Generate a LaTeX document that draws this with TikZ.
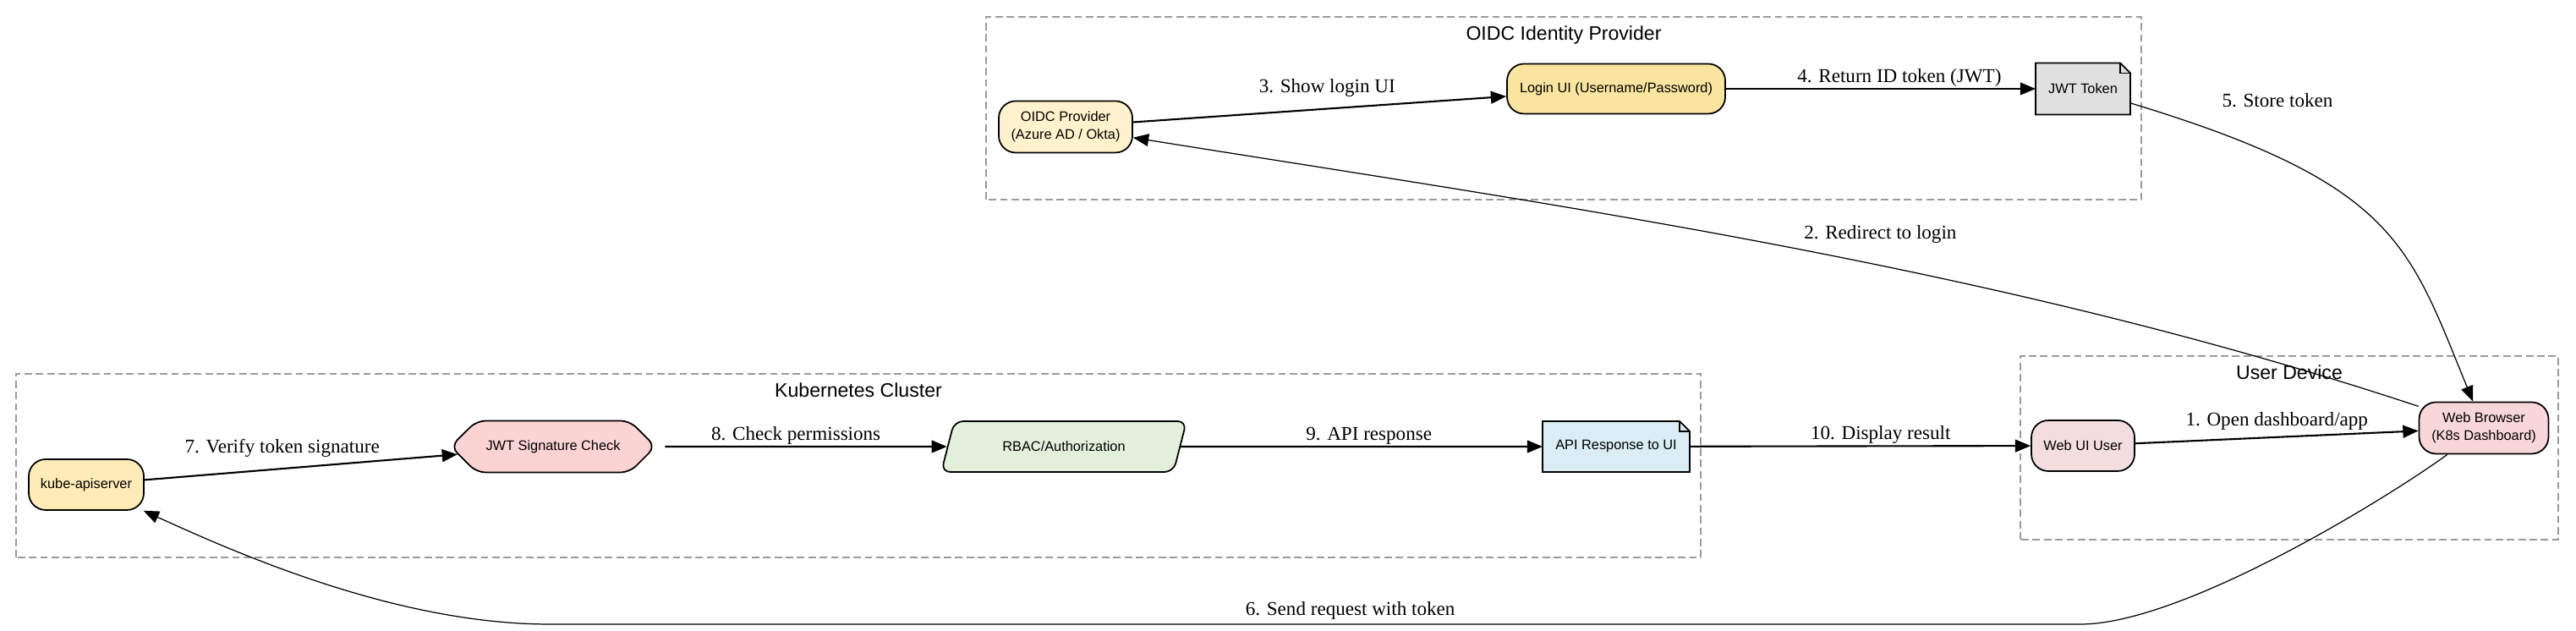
\documentclass[tikz,border=0pt]{standalone}
\usepackage{fontspec}
\setmainfont{Liberation Serif}
\setsansfont{Liberation Sans}
\usetikzlibrary{arrows.meta,positioning,shapes.geometric,shapes.symbols,calc,backgrounds}
\definecolor{idpfill}{HTML}{FFF2CC}
\definecolor{loginfill}{HTML}{FAE5A0}
\definecolor{tokenfill}{HTML}{E0E0E0}
\definecolor{apifill}{HTML}{FFEBB8}
\definecolor{sigfill}{HTML}{FBD3D3}
\definecolor{rbacfill}{HTML}{E2EFDA}
\definecolor{respfill}{HTML}{DAEDF5}
\definecolor{userfill}{HTML}{F3DDDF}
\definecolor{browserfill}{HTML}{F8D7DA}
\definecolor{clustergray}{HTML}{9A9A9A}

\newcommand{\notefold}[1]{%
  \fill[white] ($(#1.north east)+(-0.12,0)$) -- (#1.north east) -- ($(#1.north east)+(0,-0.12)$) -- cycle;
  \draw[line width=0.5pt] (#1.south west) -- (#1.north west) -- ($(#1.north east)+(-0.12,0)$) -- ($(#1.north east)+(0,-0.12)$) -- (#1.south east) -- cycle;
  \draw[line width=0.5pt] ($(#1.north east)+(-0.12,0)$) |- ($(#1.north east)+(0,-0.12)$);
}

\begin{document}
\begin{tikzpicture}[
    base/.style={line width=0.5pt,align=center,inner sep=1pt,font=\sffamily\fontsize{4.65}{5.9}\selectfont},
    rbox/.style={base,draw,rectangle,rounded corners=0.2cm},
    doc/.style={base,rectangle,outer sep=0pt},
    checkbox/.style={base,draw,signal,signal to=west and east,signal pointer angle=90,rounded corners=3pt},
    slantbox/.style={base,draw,trapezium,trapezium left angle=51,trapezium right angle=129,trapezium stretches body,rounded corners=3pt},
    cluster/.style={draw=clustergray,line width=0.5pt,dash pattern=on 2.5pt off 1.3pt},
    clustertitle/.style={anchor=base,inner sep=0pt,font=\sffamily\fontsize{6.57}{7.9}\selectfont},
    flow/.style={-{Triangle[length=5.2pt,width=4.2pt]},line width=0.6pt},
    curve/.style={flow,line width=0.35pt},
    lbl/.style={inner sep=0.5pt,font=\fontsize{6.57}{7.9}\selectfont}
  ]
    \useasboundingbox (0,0) rectangle (30.46,7.46);

    % Clusters
    \draw[cluster] (11.66,5.10) rectangle (25.32,7.26);
    \node[clustertitle] (idptitle) at (18.49,6.98) {OIDC Identity Provider};
    \draw[cluster] (0.19,0.87) rectangle (20.11,3.04);
    \node[clustertitle] (k8stitle) at (10.15,2.76) {Kubernetes Cluster};
    \draw[cluster] (23.89,1.08) rectangle (30.25,3.25);
    \node[clustertitle] (devtitle) at (27.07,2.97) {User Device};

    % Identity provider
    \node[rbox,fill=idpfill,minimum width=1.58cm,minimum height=0.61cm] (oidc) at (12.60,5.96) {OIDC Provider\\(Azure AD / Okta)};
    \node[rbox,fill=loginfill,minimum width=2.58cm,minimum height=0.59cm] (login) at (19.11,6.41) {Login UI (Username/Password)};
    \node[doc,fill=tokenfill,minimum width=1.12cm,minimum height=0.61cm] (jwt) at (24.63,6.41) {JWT Token};
    \notefold{jwt}

    % Kubernetes cluster
    \node[rbox,fill=apifill,minimum width=1.36cm,minimum height=0.60cm] (kube) at (1.02,1.73) {kube-apiserver};
    \node[checkbox,fill=sigfill,minimum width=2.42cm,minimum height=0.61cm] (jwtsig) at (6.54,2.18) {JWT Signature Check};
    \node[slantbox,fill=rbacfill,minimum width=2.90cm,minimum height=0.60cm] (rbac) at (12.58,2.18) {RBAC/Authorization};
    \node[doc,fill=respfill,minimum width=1.74cm,minimum height=0.60cm] (apiresp) at (19.11,2.18) {API Response to UI};
    \notefold{apiresp}

    % User device
    \node[rbox,fill=userfill,minimum width=1.22cm,minimum height=0.60cm] (webui) at (24.63,2.19) {Web UI User};
    \node[rbox,fill=browserfill,minimum width=1.53cm,minimum height=0.61cm] (browser) at (29.37,2.40) {Web Browser\\(K8s Dashboard)};

    % Bends of the request path
    \coordinate (bendR) at (24.6,0.08);
    \coordinate (bendL) at (6.5,0.08);

    % Flow
    \draw[flow] (webui) -- node[lbl,above,yshift=0.06cm] {1. Open dashboard/app} (browser);
    \draw[curve] (browser) .. controls (23.61,4.31) and (18.42,5.03) .. node[lbl,pos=0.42,above=0.24cm] {2. Redirect to login} (oidc);
    \draw[flow] (oidc) -- node[lbl,pos=0.52,above,yshift=0.11cm] {3. Show login UI} (login);
    \draw[flow] (login) -- node[lbl,pos=0.56,above] {4. Return ID token (JWT)} (jwt);
    \draw[curve] (jwt) .. controls (28.34,5.29) and (28.48,4.57) .. node[lbl,pos=0.23,above=0.56cm] {5. Store token} (browser);
    \draw[curve] (browser) .. controls (28.2,1.55) and (25.8,0.08) .. (bendR) -- node[lbl,pos=0.477,above,yshift=0.03cm] {6. Send request with token} (bendL) .. controls (4.7,0.08) and (2.82,0.91) .. (kube);
    \draw[flow] (kube) -- node[lbl,pos=0.44,above,yshift=0.11cm] {7. Verify token signature} (jwtsig);
    \draw[flow,shorten <=0.1cm] (jwtsig) -- node[lbl,pos=0.48,above] {8. Check permissions} (rbac);
    \draw[flow] (rbac) -- node[lbl,pos=0.52,above] {9. API response} (apiresp);
    \draw[flow] (apiresp) -- node[lbl,pos=0.56,above] {10. Display result} (webui);
  \end{tikzpicture}
\end{document}
